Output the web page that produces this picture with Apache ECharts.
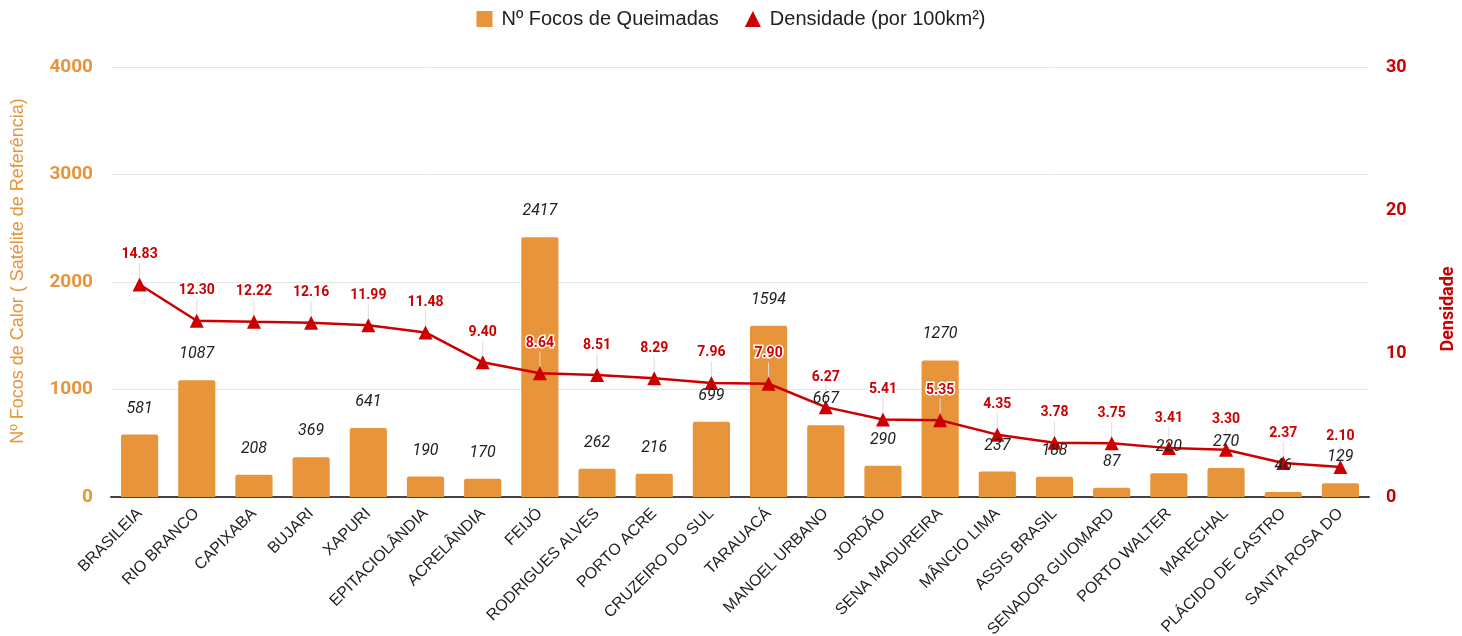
<!DOCTYPE html>
<html>
<head>
<meta charset="utf-8">
<script src="https://cdn.jsdelivr.net/npm/echarts@6/dist/echarts.min.js"></script>
<style>
  html, body { margin: 0; padding: 0; background: #fff; }
  #chart { width: 1462px; height: 636px; }
</style>
</head>
<body>
<div id="chart"></div>
<script>
// municipios
var cidades = ['BRASILEIA', 'RIO BRANCO', 'CAPIXABA', 'BUJARI', 'XAPURI', 'EPITACIOLÂNDIA',
  'ACRELÂNDIA', 'FEIJÓ', 'RODRIGUES ALVES', 'PORTO ACRE', 'CRUZEIRO DO SUL', 'TARAUACÁ',
  'MANOEL URBANO', 'JORDÃO', 'SENA MADUREIRA', 'MÂNCIO LIMA', 'ASSIS BRASIL',
  'SENADOR GUIOMARD', 'PORTO WALTER', 'MARECHAL', 'PLÁCIDO DE CASTRO', 'SANTA ROSA DO'];
var focos = [581, 1087, 208, 369, 641, 190, 170, 2417, 262, 216, 699, 1594, 667, 290, 1270,
  237, 188, 87, 220, 270, 46, 129];
var densidade = [14.83, 12.30, 12.22, 12.16, 11.99, 11.48, 9.40, 8.64, 8.51, 8.29, 7.96, 7.90,
  6.27, 5.41, 5.35, 4.35, 3.78, 3.75, 3.41, 3.30, 2.37, 2.10];

var laranja = '#E8943A';
var vermelho = '#CC0000';
var arial = '"Liberation Sans", Arial, sans-serif';

var chart = echarts.init(document.getElementById('chart'));
chart.setOption({
  animation: false,
  textStyle: { fontFamily: 'Roboto, sans-serif' },
  legend: {
    top: 4,
    left: 'center',
    itemGap: 26,
    itemWidth: 16,
    itemHeight: 16,
    textStyle: { fontSize: 20, color: '#222', fontFamily: arial, padding: [0, 0, 0, 4] },
    data: [
      { name: 'Nº Focos de Queimadas', icon: 'rect' },
      { name: 'Densidade (por 100km²)', icon: 'triangle' }
    ]
  },
  grid: { left: 111, right: 93, top: 67, bottom: 139, outerBoundsMode: 'none', containLabel: false },
  xAxis: {
    type: 'category',
    data: cidades,
    axisTick: { show: false },
    axisLine: { lineStyle: { color: '#444', width: 2 } },
    axisLabel: { rotate: 45, fontSize: 16, color: '#222', interval: 0, margin: 14, fontFamily: arial }
  },
  yAxis: [{
    type: 'value',
    min: 0, max: 4000, interval: 1000,
    name: 'Nº Focos de Calor ( Satélite de Referência)',
    nameLocation: 'middle',
    nameGap: 84,
    nameTextStyle: { color: laranja, fontSize: 18, fontFamily: arial, padding: [0, 0, 0, 22] },
    axisLabel: {
      color: laranja, fontSize: 19, fontWeight: 'bold', margin: 18,
      formatter: function (v) { return String(v); }
    },
    splitLine: { lineStyle: { color: '#e6e6e6' } }
  }, {
    type: 'value',
    min: 0, max: 30, interval: 10,
    name: 'Densidade',
    nameLocation: 'middle',
    nameRotate: 90,
    nameGap: 70,
    nameTextStyle: { color: vermelho, fontSize: 18, fontWeight: 'bold', padding: [0, 54, 0, 0] },
    axisLabel: { color: vermelho, fontSize: 18, fontWeight: 'bold', margin: 17 },
    splitLine: { show: false }
  }],
  series: [{
    name: 'Nº Focos de Queimadas',
    type: 'bar',
    data: focos,
    barWidth: '65%',
    itemStyle: { color: laranja, borderRadius: [2, 2, 0, 0] },
    z: 2
  }, {
    name: 'Densidade (por 100km²)',
    type: 'line',
    yAxisIndex: 1,
    data: densidade,
    symbol: 'triangle',
    symbolSize: 14,
    itemStyle: { color: vermelho },
    lineStyle: { color: vermelho, width: 2.5 },
    label: {
      show: true, position: 'top', distance: 6,
      fontSize: 14, fontWeight: 'bold', color: vermelho,
      textBorderColor: '#fff', textBorderWidth: 3,
      formatter: function (p) { return p.value.toFixed(2); }
    },
    labelLayout: { dy: -10 },
    labelLine: { show: true, lineStyle: { color: '#ddd', width: 1 } },
    z: 3
  }, {
    // rótulos das barras por cima da linha
    name: 'rotulos',
    type: 'bar',
    data: focos,
    barWidth: '65%',
    barGap: '-100%',
    itemStyle: { color: 'rgba(0,0,0,0)' },
    label: {
      show: true, position: 'top', distance: 18,
      fontSize: 16, fontStyle: 'italic', color: '#222'
    },
    silent: true,
    z: 4
  }]
});
</script>
</body>
</html>
